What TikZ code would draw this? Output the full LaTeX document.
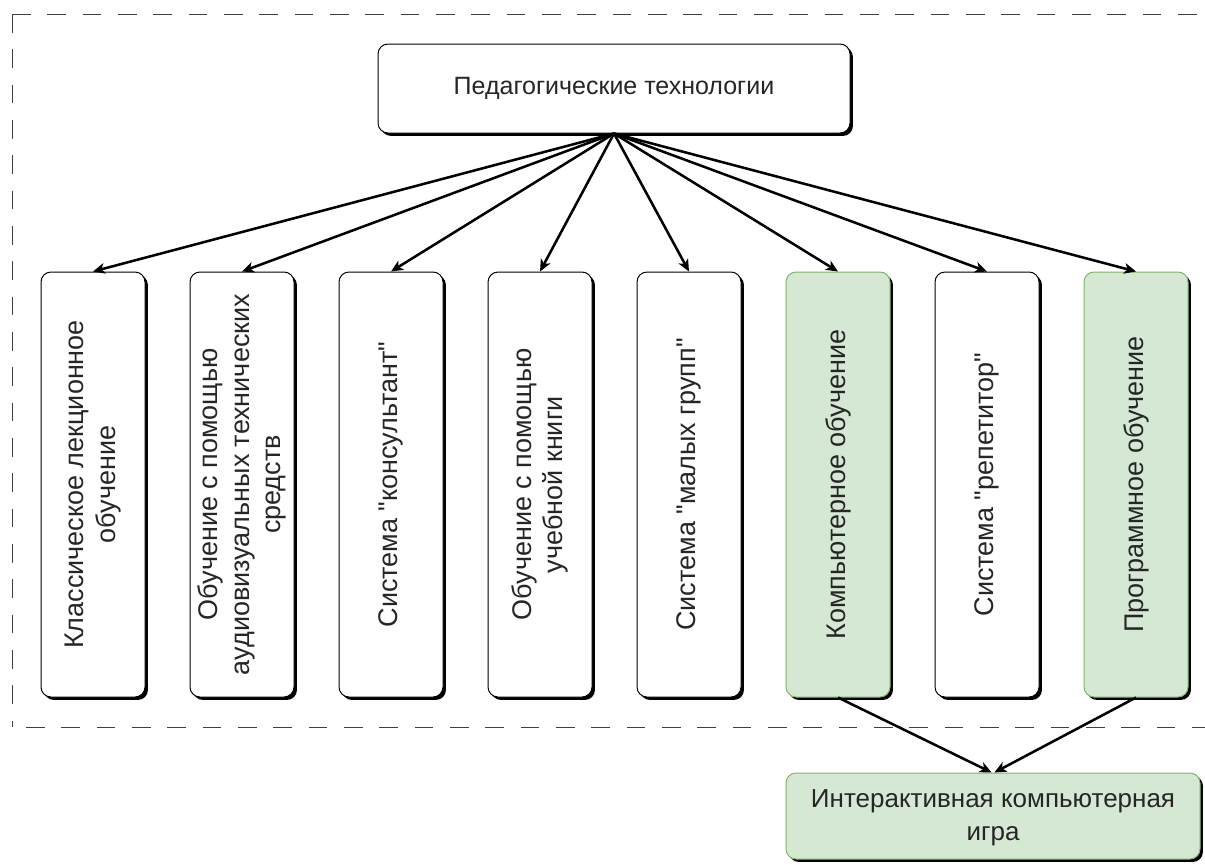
\documentclass[tikz,border=0pt]{standalone}
\usepackage{fontspec}
\setmainfont{Liberation Sans}[Ligatures=TeXOff]
\usetikzlibrary{arrows.meta,shadows}
\definecolor{gfill}{HTML}{D5E8D4}
\definecolor{gdraw}{HTML}{82B366}
\begin{document}
\begin{tikzpicture}[x=0.75pt,y=-0.75pt,
  every node/.style={font=\fontsize{18.75}{23.5}\selectfont, text=black!85},
  box/.style={draw=black, line width=0.75pt, rounded corners=7.5pt, fill=white,
    drop shadow={shadow xshift=2.2pt, shadow yshift=-2.2pt, fill=black, opacity=1}, inner sep=0pt},
  gbox/.style={box, fill=gfill, draw=gdraw},
  vbox/.style={minimum width=78pt, minimum height=318.75pt},
  vtext/.style={rotate=90, align=center, font=\fontsize{20.25}{23.5}\selectfont},
  arr/.style={line width=1.9pt, -{Stealth[length=9pt,width=8pt,inset=2.5pt]}},
  frame/.style={draw=black!75, line width=0.75pt, dash pattern=on 14pt off 12.5pt}]
\useasboundingbox (0,0) rectangle (1205,864);
\clip (0,0) rectangle (1205,864);
% dashed frame
\draw[frame] (12,14) -- (12,727);
\draw[frame] (12,14) -- (1215,14);
\draw[frame] (26,727) -- (1215,727);
% top node
\node[box, minimum width=354pt, minimum height=66.75pt] (top) at (614,88.5) {};
\node (toptext) at (614,88.5) {Педагогические технологии};
% vertical boxes
\node[box, vbox] (b1) at (93,484.5) {};
\node[box, vbox] (b2) at (242,484.5) {};
\node[box, vbox] (b3) at (391,484.5) {};
\node[box, vbox] (b4) at (540,484.5) {};
\node[box, vbox] (b5) at (689,484.5) {};
\node[gbox, vbox] (b6) at (838,484.5) {};
\node[box, vbox] (b7) at (987,484.5) {};
\node[gbox, vbox] (b8) at (1136,484.5) {};
\node[vtext] (t1) at (b1) {Классическое лекционное\\обучение};
\node[vtext] (t2) at (b2) {Обучение с помощью\\аудиовизуальных технических\\средств};
\node[vtext] (t3) at (b3) {Система "консультант"};
\node[vtext] (t4) at (b4) {Обучение с помощью\\учебной книги};
\node[vtext] (t5) at (b5) {Система "малых групп"};
\node[vtext] (t6) at (b6) {Компьютерное обучение};
\node[vtext] (t7) at (b7) {Система "репетитор"};
\node[vtext] (t8) at (b8) {Программное обучение};
% bottom node
\node[gbox, minimum width=310.5pt, minimum height=64.5pt] (bot) at (993,816) {};
\node[align=center, font=\fontsize{19.5}{24.75}\selectfont] (bottext) at (993,818) {Интерактивная компьютерная\\игра};
% arrows
\foreach \i in {1,...,8} {
  \draw[arr] (top.south) -- (b\i.north);
}
\draw[arr] (b6.south) -- ([xshift=-1pt]bot.north);
\draw[arr] (b8.south) -- ([xshift=1pt]bot.north);
\end{tikzpicture}
\end{document}
